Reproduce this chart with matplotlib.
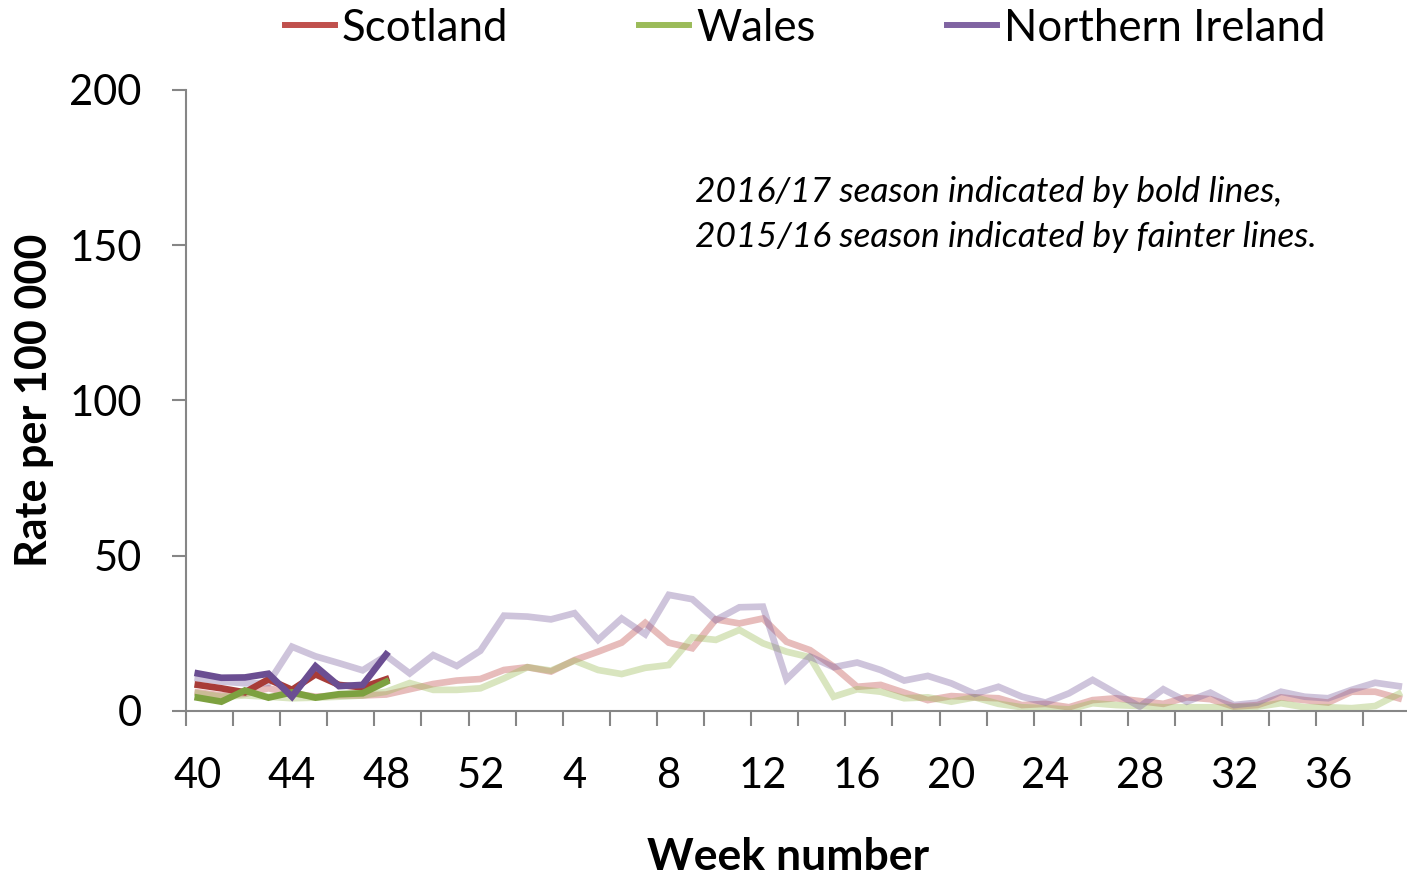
import numpy as np
import matplotlib
matplotlib.use("Agg")
import matplotlib.pyplot as plt
from matplotlib.lines import Line2D

plt.rcParams['font.family'] = ['Lato', 'DejaVu Sans']

# week numbers: season runs week 40 -> week 39
weeks = list(range(40, 53)) + list(range(1, 40))

# 2016/17 season (bold lines), weeks 40-48
scot_1617  = [8.4, 7.3, 6.0, 10.2, 6.8, 11.8, 8.4, 7.6, 10.2]
wales_1617 = [4.3, 3.0, 6.6, 4.3, 6.0, 4.3, 5.4, 5.7, 9.4]
ni_1617    = [12.1, 10.7, 10.8, 12.0, 4.6, 14.4, 8.0, 8.4, 18.2]

# 2015/16 season (faint lines), full 52 weeks
scot_1516 = [6.0, 5.0, 5.5, 7.3, 5.7, 4.6, 5.0, 5.0, 5.3,
             7.0, 8.7, 9.8, 10.3, 13.2, 14.1, 12.7, 16.4, 19.1, 22.0, 28.4,
             22.0, 20.2, 29.5, 28.2, 29.8, 22.3, 19.6, 14.3, 7.8,
             8.4, 5.9, 3.5, 4.8, 4.4, 4.1, 1.9, 2.3, 1.2, 3.5, 4.1,
             3.2, 2.3, 4.4, 3.8, 1.4, 1.9, 4.4, 3.5, 2.7, 6.2, 6.2, 4.1]
wales_1516 = [5.7, 4.6, 5.0, 4.6, 4.1, 4.3, 4.6, 5.0, 6.2,
              9.0, 6.8, 6.8, 7.3, 10.5, 14.1, 13.0, 16.2, 13.2, 11.9, 13.9,
              14.8, 23.7, 22.9, 26.1, 21.8, 19.1, 17.3, 4.6, 7.0,
              6.2, 4.1, 4.4, 3.0, 4.4, 2.3, 1.2, 0.9, 0.5, 2.5, 1.9,
              1.6, 1.2, 1.2, 1.2, 1.2, 1.4, 2.5, 1.2, 1.2, 0.9, 1.6, 5.5]
ni_1516 = [10.5, 9.5, 8.9, 9.0, 20.7, 17.6, 15.4, 13.1, 17.8,
           12.1, 18.0, 14.5, 19.4, 30.7, 30.4, 29.5, 31.5, 22.9, 29.8, 24.7,
           37.4, 36.0, 29.3, 33.4, 33.6, 10.2, 17.5, 14.1, 15.6,
           13.2, 9.8, 11.3, 8.9, 5.5, 7.8, 4.6, 2.7, 5.7, 10.0, 5.7,
           1.4, 7.0, 3.0, 5.9, 1.9, 2.7, 6.2, 4.6, 4.1, 6.8, 9.1, 8.0]

names = ['Scotland', 'Wales', 'Northern Ireland']
base_cols = ['#C0504D', '#9BBB59', '#8064A2']
bold_cols = ['#A83C38', '#7DA140', '#6B4E92']

fig = plt.figure(figsize=(14.07, 8.77), dpi=100)
ax = fig.add_axes([0.1322, 0.1893, 0.8703, 0.7081])

x_all = np.arange(len(weeks))
LW = 4.8
for ys, c in zip([scot_1516, wales_1516, ni_1516], base_cols):
    ax.plot(x_all, ys, color=c, alpha=0.38, lw=LW, solid_joinstyle='miter')
for ys, c in zip([scot_1617, wales_1617, ni_1617], bold_cols):
    ax.plot(x_all[:len(ys)], ys, color=c, lw=LW, solid_joinstyle='miter')

ax.set_xlim(-0.5, len(weeks) - 0.5)
ax.set_ylim(0, 200)

gray = '#868686'
for s in ['top', 'right']:
    ax.spines[s].set_visible(False)
for s in ['left', 'bottom']:
    ax.spines[s].set_color(gray)
    ax.spines[s].set_linewidth(1.5)

ax.set_yticks(np.arange(0, 201, 50))
ax.tick_params(axis='y', direction='out', length=10, width=1.5, color=gray,
               labelsize=30, pad=22)

lab_idx = np.arange(0, len(weeks), 4)
ax.set_xticks(lab_idx)
ax.set_xticklabels([str(weeks[i]) for i in lab_idx])
ax.set_xticks(np.arange(-0.5, len(weeks), 2), minor=True)
ax.tick_params(axis='x', which='major', length=0, labelsize=30, pad=33)
ax.tick_params(axis='x', which='minor', direction='out', length=11,
               width=1.5, color=gray)

ax.set_ylabel('Rate per 100 000', fontsize=31, fontweight='bold')
ax.yaxis.set_label_coords(-0.108, 0.5)
ax.set_xlabel('Week number', fontsize=32, fontweight='bold', va='center')
ax.xaxis.set_label_coords(0.492, -0.235)

fig.text(0.494, 0.781, '2016/17 season indicated by bold lines,',
         fontsize=25.5, style='italic', va='center', ha='left')
fig.text(0.494, 0.730, '2015/16 season indicated by fainter lines.',
         fontsize=25.5, style='italic', va='center', ha='left')

handles = [Line2D([], [], color=c, lw=4.3) for c in base_cols]
fig.legend(handles, names, loc='center', bbox_to_anchor=(0.572, 0.968),
           ncol=3, frameon=False, fontsize=31.5, handlelength=1.15,
           handletextpad=0.15, columnspacing=3.0)

fig.savefig('out.png', dpi=100)
